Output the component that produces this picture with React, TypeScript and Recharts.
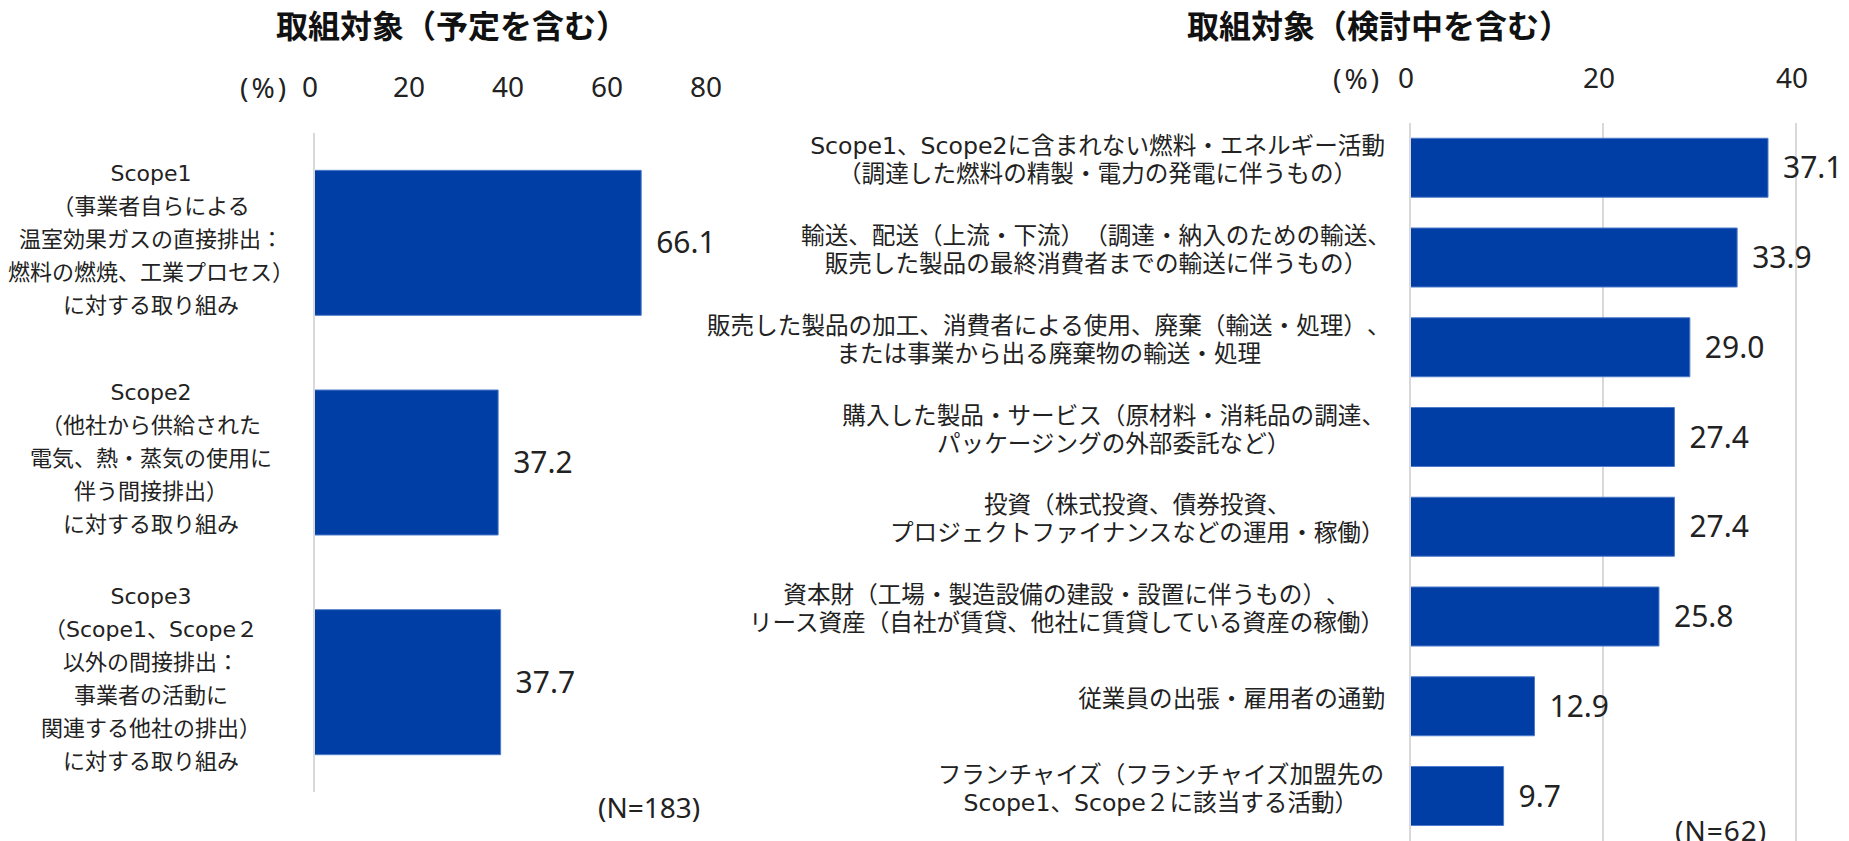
import React from 'react'
import { BarChart, Bar, XAxis, YAxis, CartesianGrid, LabelList } from 'recharts'

// 左：取組対象（予定を含む）
const leftCategories = [
  'Scope1\n（事業者自らによる\n温室効果ガスの直接排出：\n燃料の燃焼、工業プロセス）\nに対する取り組み',
  'Scope2\n（他社から供給された\n電気、熱・蒸気の使用に\n伴う間接排出）\nに対する取り組み',
  'Scope3\n（Scope1、Scope２\n以外の間接排出：\n事業者の活動に\n関連する他社の排出）\nに対する取り組み',
]
const leftValues = [66.1, 37.2, 37.7]
const leftTicks = [0, 20, 40, 60, 80]

// 右：取組対象（検討中を含む）
const rightCategories = [
  'Scope1、Scope2に含まれない燃料・エネルギー活動\n（調達した燃料の精製・電力の発電に伴うもの）',
  '輸送、配送（上流・下流）（調達・納入のための輸送、\n販売した製品の最終消費者までの輸送に伴うもの）',
  '販売した製品の加工、消費者による使用、廃棄（輸送・処理）、\nまたは事業から出る廃棄物の輸送・処理',
  '購入した製品・サービス（原材料・消耗品の調達、\nパッケージングの外部委託など）',
  '投資（株式投資、債券投資、\nプロジェクトファイナンスなどの運用・稼働）',
  '資本財（工場・製造設備の建設・設置に伴うもの）、\nリース資産（自社が賃貸、他社に賃貸している資産の稼働）',
  '従業員の出張・雇用者の通勤',
  'フランチャイズ（フランチャイズ加盟先の\nScope1、Scope２に該当する活動）',
]
const rightValues = [37.1, 33.9, 29.0, 27.4, 27.4, 25.8, 12.9, 9.7]
const rightTicks = [0, 20, 40]

const leftData = leftCategories.map((name, i) => ({ name, value: leftValues[i] }))
const rightData = rightCategories.map((name, i) => ({ name, value: rightValues[i] }))

const BLUE = '#003DA5'
const TEXT = '#222'
const JP = '"Noto Sans", "Noto Sans CJK JP", sans-serif'
const LABEL = '"DejaVu Sans", "Noto Sans CJK JP", sans-serif'
const NUM = '"Noto Sans", sans-serif'
const noTrim = { textSpacingTrim: 'space-all' } as any

let ctx: CanvasRenderingContext2D | null = null
function measure(s: string, size: number) {
  if (!ctx) ctx = document.createElement('canvas').getContext('2d')
  if (!ctx) return s.length * size
  ctx.font = `${size}px ${LABEL}`
  return ctx.measureText(s).width
}

const topTick = (off: number) => (props: any) => {
  const { x, y, payload } = props
  return (
    <text x={x - 4} y={y + off} textAnchor="middle" fontSize={28} fontFamily={NUM} fill={TEXT}>
      {payload.value}
    </text>
  )
}

function LeftLabel(props: any) {
  const { x, y, payload } = props
  const lines = String(payload.value).split('\n')
  const fs = 22
  const lh = 33
  const first = y - 4 - ((lines.length - 1) * lh) / 2
  return (
    <text textAnchor="middle" fontSize={fs} fontFamily={LABEL} fill={TEXT} style={noTrim}>
      {lines.map((l, i) => (
        <tspan key={i} x={x - 163} y={first + i * lh} dy="0.36em">{l}</tspan>
      ))}
    </text>
  )
}

function RightLabel(props: any) {
  const { x, y, payload } = props
  const lines = String(payload.value).split('\n')
  const fs = 23.6
  const lh = 28
  const w = Math.max(...lines.map((l) => measure(l, fs)))
  const cx = x - 25 - w / 2
  const first = y - 8 - ((lines.length - 1) * lh) / 2
  return (
    <text textAnchor="middle" fontSize={fs} fontFamily={LABEL} fill={TEXT} style={noTrim}>
      {lines.map((l, i) => (
        <tspan key={i} x={cx} y={first + i * lh} dy="0.36em">{l}</tspan>
      ))}
    </text>
  )
}

const abs = (style: React.CSSProperties): React.CSSProperties => ({ position: 'absolute', whiteSpace: 'nowrap', ...style })
const titleStyle: React.CSSProperties = { top: 9, transform: 'translateX(-50%)', fontSize: 32, fontWeight: 700, lineHeight: '34px', color: '#111', ...noTrim }

export default function App() {
  return (
    <div style={{ position: 'absolute', left: 0, top: 0, width: 1849, height: 841, background: '#fff', overflow: 'hidden', fontFamily: JP, color: TEXT }}>
      <div style={abs({ left: 452, ...titleStyle })}>取組対象（予定を含む）</div>
      <div style={abs({ left: 1379, ...titleStyle })}>取組対象（検討中を含む）</div>
      <div style={abs({ left: 240, top: 71, fontSize: 28, lineHeight: '32px', fontFamily: NUM, letterSpacing: 3 })}>(%)</div>
      <div style={abs({ left: 1333, top: 62, fontSize: 28, lineHeight: '32px', fontFamily: NUM, letterSpacing: 3 })}>(%)</div>
      <div style={abs({ left: 598, top: 791, fontSize: 28, lineHeight: '32px', fontFamily: NUM })}>(N=183)</div>
      <div style={abs({ left: 1675, top: 814, fontSize: 28, lineHeight: '32px', fontFamily: NUM, letterSpacing: 1 })}>(N=62)</div>

      <div style={abs({ left: 0, top: 0 })}>
        <BarChart
          layout="vertical"
          width={760}
          height={841}
          data={leftData}
          margin={{ top: 93, right: 50, bottom: 49, left: 0 }}
          barCategoryGap="17%"
        >
          <XAxis
            type="number"
            domain={[0, 80]}
            ticks={leftTicks}
            orientation="top"
            height={40}
            axisLine={false}
            tickLine={false}
            tickSize={0}
            tickMargin={0}
            interval={0}
            tick={topTick(-36)}
          />
          <YAxis
            type="category"
            dataKey="name"
            width={314}
            axisLine={{ stroke: '#d9d9d9', strokeWidth: 2 }}
            tickLine={false}
            tickSize={0}
            tickMargin={0}
            interval={0}
            tick={LeftLabel}
          />
          <Bar dataKey="value" fill={BLUE} stroke="#4D7BC9" strokeWidth={1} isAnimationActive={false}>
            <LabelList
              dataKey="value"
              position="right"
              offset={15}
              formatter={(v: any) => Number(v).toFixed(1)}
              style={{ fontSize: 30, fontFamily: NUM, fill: TEXT }}
            />
          </Bar>
        </BarChart>
      </div>

      <div style={abs({ left: 700, top: 0 })}>
        <BarChart
          layout="vertical"
          width={1149}
          height={841}
          data={rightData}
          margin={{ top: 83, right: 53, bottom: 0, left: 0 }}
          barCategoryGap="17%"
        >
          <CartesianGrid horizontal={false} stroke="#d9d9d9" strokeWidth={2} />
          <XAxis
            type="number"
            domain={[0, 40]}
            ticks={rightTicks}
            orientation="top"
            height={40}
            axisLine={false}
            tickLine={false}
            tickSize={0}
            tickMargin={0}
            interval={0}
            tick={topTick(-35)}
          />
          <YAxis
            type="category"
            dataKey="name"
            width={710}
            axisLine={{ stroke: '#d9d9d9', strokeWidth: 2 }}
            tickLine={false}
            tickSize={0}
            tickMargin={0}
            interval={0}
            tick={RightLabel}
          />
          <Bar dataKey="value" fill={BLUE} stroke="#4D7BC9" strokeWidth={1} isAnimationActive={false}>
            <LabelList
              dataKey="value"
              position="right"
              offset={15}
              formatter={(v: any) => Number(v).toFixed(1)}
              style={{ fontSize: 30, fontFamily: NUM, fill: TEXT }}
            />
          </Bar>
        </BarChart>
      </div>
    </div>
  )
}
